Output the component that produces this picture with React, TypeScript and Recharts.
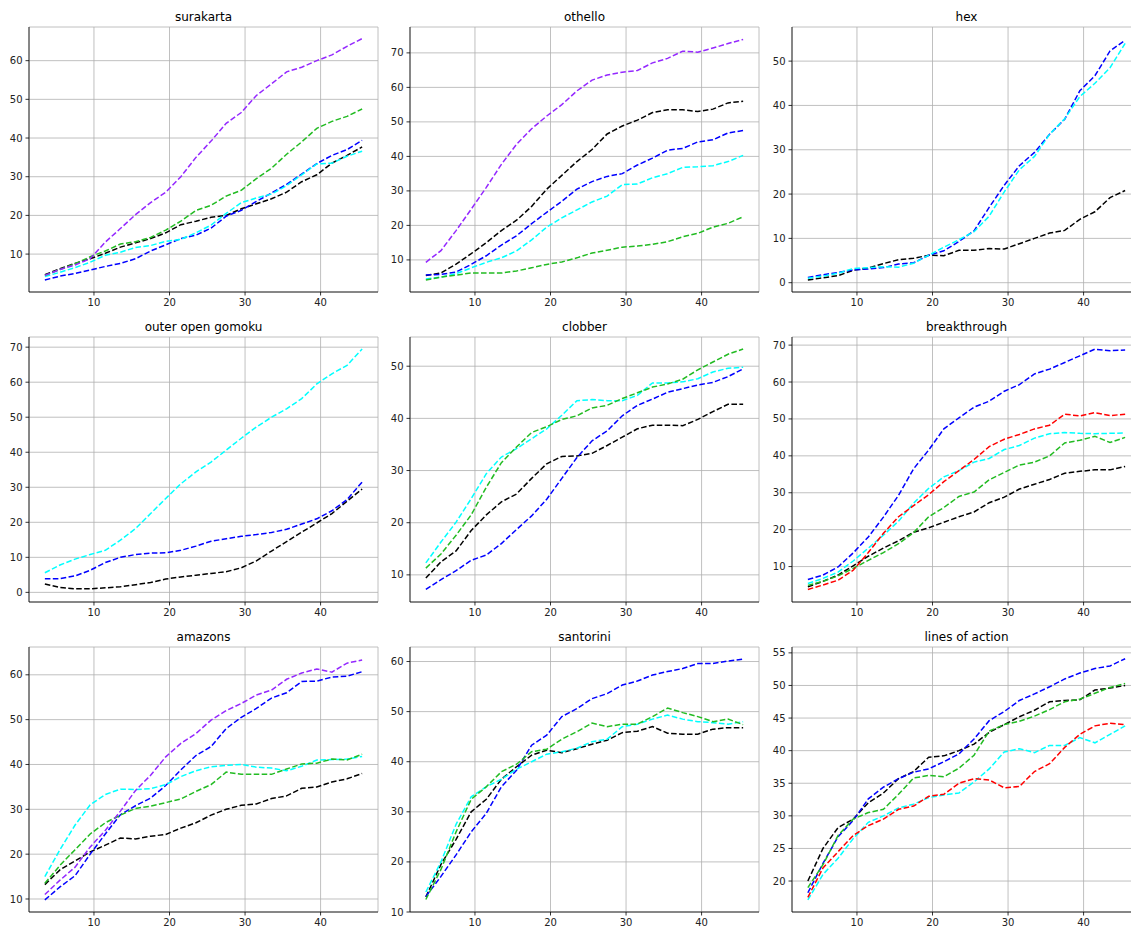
import React from 'react';
import { LineChart, Line, XAxis, YAxis, CartesianGrid } from 'recharts';

// x positions (game progress)
const X = [3.5, 5.5, 7.5, 9.5, 11.5, 13.5, 15.5, 17.5, 19.5, 21.5, 23.5, 25.5, 27.5, 29.5, 31.5, 33.5, 35.5, 37.5, 39.5, 41.5, 43.5, 45.5];
const X_TICKS = [10, 20, 30, 40];

// surakarta
const surakartaPurple = [4.5, 6.0, 7.2, 8.8, 13.1, 16.6, 20.2, 23.3, 26.0, 30.0, 35.0, 39.2, 43.8, 46.6, 51.0, 54.0, 57.1, 58.3, 60.0, 61.5, 63.7, 65.7];
const surakartaGreen = [4.5, 6.0, 7.5, 9.3, 10.8, 12.6, 13.2, 14.3, 16.2, 18.5, 21.3, 22.6, 25.0, 26.5, 29.5, 32.2, 35.8, 39.0, 42.5, 44.3, 45.6, 47.5];
const surakartaBlack = [4.7, 6.2, 7.6, 8.8, 10.2, 11.8, 12.9, 14.0, 15.5, 17.6, 18.5, 19.5, 20.0, 21.7, 23.0, 24.3, 26.0, 28.7, 30.5, 33.5, 35.5, 37.7];
const surakartaCyan = [4.2, 5.3, 6.5, 7.9, 9.7, 10.5, 11.7, 12.2, 13.3, 13.8, 15.5, 17.5, 20.5, 23.3, 24.5, 25.5, 27.7, 30.5, 33.3, 33.5, 35.3, 36.6];
const surakartaBlue = [3.3, 4.3, 5.0, 5.9, 6.8, 7.6, 8.8, 10.8, 12.4, 14.0, 14.9, 16.7, 19.8, 21.3, 23.6, 25.8, 28.0, 30.7, 33.4, 35.5, 37.0, 39.4];

// othello
const othelloPurple = [9.3, 12.7, 18.5, 24.7, 31.0, 37.7, 43.5, 48.0, 51.7, 55.0, 59.0, 62.1, 63.6, 64.4, 64.9, 67.1, 68.4, 70.5, 70.2, 71.4, 72.7, 73.9];
const othelloBlack = [5.5, 6.2, 8.8, 11.8, 15.0, 18.5, 21.5, 25.5, 30.5, 34.5, 38.5, 42.0, 46.5, 48.8, 50.5, 52.7, 53.5, 53.5, 53.0, 53.7, 55.5, 56.0];
const othelloBlue = [5.6, 5.8, 6.5, 8.7, 11.2, 14.3, 17.0, 20.5, 23.8, 27.0, 30.5, 32.7, 34.2, 35.0, 37.5, 39.5, 41.8, 42.3, 44.2, 44.8, 46.8, 47.5];
const othelloCyan = [4.5, 5.0, 6.0, 7.7, 9.3, 10.6, 12.6, 15.8, 19.5, 22.2, 24.5, 26.8, 28.5, 31.8, 32.0, 33.8, 35.0, 36.8, 37.0, 37.3, 38.5, 40.3];
const othelloGreen = [4.2, 5.0, 5.6, 6.2, 6.2, 6.2, 6.8, 7.7, 8.7, 9.4, 10.6, 12.0, 12.8, 13.7, 14.0, 14.5, 15.3, 16.7, 17.7, 19.5, 20.6, 22.5];

// hex
const hexBlue = [1.2, 1.8, 2.3, 2.9, 3.1, 3.4, 4.2, 4.5, 6.2, 7.2, 9.3, 11.7, 17.0, 22.0, 26.4, 29.4, 33.5, 36.9, 43.3, 46.7, 52.3, 54.7];
const hexCyan = [1.0, 1.5, 2.1, 3.2, 3.4, 3.6, 3.5, 4.4, 6.2, 8.0, 9.7, 11.5, 15.0, 20.5, 25.5, 28.5, 33.5, 37.0, 42.0, 45.0, 48.5, 54.0];
const hexBlack = [0.6, 1.1, 1.6, 2.8, 3.3, 4.3, 5.2, 5.5, 6.2, 6.1, 7.3, 7.3, 7.7, 7.6, 8.8, 10.0, 11.2, 11.8, 14.3, 16.0, 19.2, 20.8];

// outer open gomoku
const gomokuCyan = [5.6, 7.8, 9.5, 10.8, 12.0, 14.9, 18.2, 22.5, 26.8, 31.0, 34.4, 37.2, 40.6, 44.0, 47.2, 50.0, 52.4, 55.3, 59.5, 62.4, 64.8, 69.5];
const gomokuBlue = [3.9, 3.9, 4.7, 6.3, 8.5, 10.0, 10.8, 11.2, 11.3, 12.0, 13.2, 14.6, 15.3, 16.0, 16.5, 17.1, 18.0, 19.5, 21.0, 23.3, 26.5, 31.5];
const gomokuBlack = [2.4, 1.4, 1.0, 1.0, 1.3, 1.6, 2.2, 2.8, 3.8, 4.4, 4.9, 5.4, 5.9, 7.0, 9.0, 11.8, 14.5, 17.2, 19.8, 22.5, 26.0, 29.5];

// clobber
const clobberCyan = [12.3, 16.3, 20.1, 24.6, 29.4, 32.6, 34.2, 36.1, 38.0, 40.6, 43.4, 43.6, 43.4, 43.4, 44.4, 46.8, 46.8, 47.0, 47.6, 48.9, 49.6, 49.8];
const clobberGreen = [11.3, 14.0, 17.6, 21.5, 26.8, 31.5, 34.5, 37.3, 38.4, 39.8, 40.5, 42.0, 42.5, 43.8, 44.9, 46.0, 46.6, 47.5, 49.3, 50.8, 52.3, 53.3];
const clobberBlack = [9.4, 12.5, 14.6, 18.5, 21.5, 24.0, 25.5, 28.5, 31.3, 32.7, 32.8, 33.3, 34.8, 36.4, 38.0, 38.7, 38.7, 38.6, 39.8, 41.3, 42.7, 42.7];
const clobberBlue = [7.2, 9.1, 10.8, 12.8, 13.8, 16.0, 18.7, 21.3, 24.5, 28.5, 32.5, 35.7, 37.6, 40.5, 42.5, 43.7, 45.0, 45.7, 46.4, 46.9, 48.0, 49.5];

// breakthrough
const btBlue = [6.5, 7.7, 9.9, 13.7, 18.0, 23.4, 29.3, 36.5, 41.6, 47.3, 50.3, 53.2, 54.8, 57.5, 59.3, 62.2, 63.5, 65.3, 67.1, 68.9, 68.5, 68.7];
const btRed = [3.8, 5.0, 6.3, 9.0, 13.8, 19.0, 23.5, 26.5, 29.5, 33.0, 36.0, 39.0, 42.5, 44.5, 45.8, 47.3, 48.3, 51.3, 50.8, 51.7, 50.9, 51.3];
const btCyan = [5.4, 6.8, 8.5, 11.5, 15.0, 18.5, 22.3, 27.2, 31.2, 34.3, 36.0, 38.3, 39.3, 41.7, 42.8, 44.8, 46.0, 46.3, 46.1, 46.0, 46.1, 46.2];
const btGreen = [4.9, 6.0, 7.5, 9.5, 11.7, 13.8, 16.2, 19.2, 23.5, 26.0, 29.0, 30.2, 33.5, 35.5, 37.5, 38.3, 40.0, 43.5, 44.2, 45.3, 43.6, 45.0];
const btBlack = [4.5, 6.0, 7.7, 10.2, 12.8, 15.0, 17.0, 19.3, 20.5, 22.0, 23.5, 24.8, 27.3, 28.8, 31.0, 32.3, 33.6, 35.3, 35.8, 36.2, 36.2, 37.1];

// amazons
const amazonsPurple = [11.0, 14.2, 17.1, 21.6, 25.3, 29.6, 34.2, 37.6, 41.7, 44.7, 46.9, 49.9, 52.0, 53.6, 55.5, 56.6, 59.0, 60.4, 61.3, 60.6, 62.6, 63.3];
const amazonsBlue = [9.8, 12.7, 15.2, 20.0, 24.5, 28.8, 30.8, 32.5, 35.3, 38.8, 42.0, 44.0, 48.0, 50.5, 52.5, 54.8, 56.0, 58.5, 58.6, 59.5, 59.7, 60.7];
const amazonsCyan = [15.0, 21.0, 26.5, 31.0, 33.3, 34.5, 34.4, 34.6, 35.5, 37.3, 38.6, 39.5, 39.8, 40.0, 39.4, 39.2, 38.6, 39.6, 41.0, 41.1, 41.2, 41.8];
const amazonsGreen = [13.5, 17.5, 21.0, 24.5, 27.0, 28.7, 30.2, 30.7, 31.5, 32.3, 34.0, 35.5, 38.3, 37.8, 37.8, 37.8, 39.0, 40.1, 40.3, 41.2, 41.0, 42.3];
const amazonsBlack = [13.2, 16.5, 18.5, 20.5, 22.0, 23.6, 23.4, 24.0, 24.4, 25.8, 27.0, 28.7, 30.0, 30.9, 31.2, 32.4, 33.0, 34.7, 35.0, 36.1, 36.8, 38.0];

// santorini
const santoriniBlue = [13.1, 17.1, 21.4, 26.0, 29.7, 35.0, 38.3, 43.3, 45.3, 49.0, 50.6, 52.6, 53.6, 55.3, 56.1, 57.3, 58.0, 58.6, 59.6, 59.6, 60.1, 60.5];
const santoriniGreen = [12.5, 18.5, 26.0, 32.5, 35.0, 38.0, 39.5, 42.0, 42.5, 44.5, 46.0, 47.7, 47.0, 47.5, 47.5, 49.0, 50.7, 49.8, 49.0, 48.0, 48.5, 47.4];
const santoriniCyan = [14.0, 20.0, 27.5, 33.0, 35.0, 36.5, 38.5, 40.0, 41.5, 42.0, 42.7, 44.0, 44.5, 47.0, 47.5, 48.5, 49.3, 48.5, 48.0, 47.8, 47.5, 48.0];
const santoriniBlack = [13.0, 19.5, 24.5, 30.0, 32.5, 36.5, 39.0, 41.3, 42.3, 41.8, 42.6, 43.5, 44.3, 45.8, 46.1, 47.0, 45.7, 45.5, 45.5, 46.5, 46.8, 46.8];

// lines of action
const loaBlue = [18.2, 22.7, 26.8, 29.3, 32.6, 34.4, 35.7, 36.7, 37.2, 38.3, 39.5, 41.8, 44.6, 46.0, 47.7, 48.7, 49.8, 51.0, 51.9, 52.6, 53.0, 54.1];
const loaBlack = [20.0, 25.0, 28.2, 29.5, 32.0, 33.5, 35.7, 36.8, 39.0, 39.2, 40.0, 41.0, 42.8, 44.0, 45.2, 46.2, 47.5, 47.7, 47.8, 49.3, 49.6, 50.0];
const loaGreen = [19.0, 22.5, 27.0, 29.5, 30.5, 31.0, 33.3, 35.8, 36.2, 36.0, 37.3, 39.3, 43.0, 44.0, 44.5, 45.3, 46.3, 47.5, 47.9, 48.8, 49.7, 50.3];
const loaRed = [17.5, 22.0, 24.5, 27.0, 28.5, 29.5, 31.0, 31.5, 33.0, 33.3, 35.0, 35.7, 35.5, 34.3, 34.5, 36.8, 38.0, 40.5, 42.5, 43.8, 44.2, 44.0];
const loaCyan = [17.1, 21.0, 23.5, 26.5, 29.0, 30.0, 31.2, 31.8, 32.8, 33.2, 33.5, 35.2, 37.2, 39.8, 40.3, 39.7, 40.8, 40.8, 42.0, 41.2, 42.5, 43.8];

const PURPLE = '#9428ff';
const BLUE = '#0000ff';
const CYAN = '#00ffff';
const GREEN = '#22bb22';
const RED = '#ff0000';
const BLACK = '#000000';

const COLS = [29, 410, 792];
const ROWS = [27, 337, 647];
const PW = 349;
const PH = 265;
const ML = 40;
const MT = 25;
const MB = 25;
const MR = 2;

type Series = { name: string; color: string; values: number[] };
type Cfg = { title: string; col: number; row: number; yDomain: [number, number]; yTicks: number[]; series: Series[] };

const panels: Cfg[] = [
  {
    title: 'surakarta', col: 0, row: 0, yDomain: [0.2, 68.7], yTicks: [10, 20, 30, 40, 50, 60],
    series: [
      { name: 'black', color: BLACK, values: surakartaBlack },
      { name: 'blue', color: BLUE, values: surakartaBlue },
      { name: 'cyan', color: CYAN, values: surakartaCyan },
      { name: 'green', color: GREEN, values: surakartaGreen },
      { name: 'purple', color: PURPLE, values: surakartaPurple },
    ],
  },
  {
    title: 'othello', col: 1, row: 0, yDomain: [0.7, 77.5], yTicks: [10, 20, 30, 40, 50, 60, 70],
    series: [
      { name: 'black', color: BLACK, values: othelloBlack },
      { name: 'blue', color: BLUE, values: othelloBlue },
      { name: 'cyan', color: CYAN, values: othelloCyan },
      { name: 'green', color: GREEN, values: othelloGreen },
      { name: 'purple', color: PURPLE, values: othelloPurple },
    ],
  },
  {
    title: 'hex', col: 2, row: 0, yDomain: [-2.1, 57.7], yTicks: [0, 10, 20, 30, 40, 50],
    series: [
      { name: 'black', color: BLACK, values: hexBlack },
      { name: 'blue', color: BLUE, values: hexBlue },
      { name: 'cyan', color: CYAN, values: hexCyan },
    ],
  },
  {
    title: 'outer open gomoku', col: 0, row: 1, yDomain: [-2.75, 72.9], yTicks: [0, 10, 20, 30, 40, 50, 60, 70],
    series: [
      { name: 'black', color: BLACK, values: gomokuBlack },
      { name: 'blue', color: BLUE, values: gomokuBlue },
      { name: 'cyan', color: CYAN, values: gomokuCyan },
    ],
  },
  {
    title: 'clobber', col: 1, row: 1, yDomain: [4.8, 55.6], yTicks: [10, 20, 30, 40, 50],
    series: [
      { name: 'black', color: BLACK, values: clobberBlack },
      { name: 'blue', color: BLUE, values: clobberBlue },
      { name: 'cyan', color: CYAN, values: clobberCyan },
      { name: 'green', color: GREEN, values: clobberGreen },
    ],
  },
  {
    title: 'breakthrough', col: 2, row: 1, yDomain: [0.4, 72.2], yTicks: [10, 20, 30, 40, 50, 60, 70],
    series: [
      { name: 'black', color: BLACK, values: btBlack },
      { name: 'blue', color: BLUE, values: btBlue },
      { name: 'cyan', color: CYAN, values: btCyan },
      { name: 'green', color: GREEN, values: btGreen },
      { name: 'red', color: RED, values: btRed },
    ],
  },
  {
    title: 'amazons', col: 0, row: 2, yDomain: [7.1, 66.2], yTicks: [10, 20, 30, 40, 50, 60],
    series: [
      { name: 'black', color: BLACK, values: amazonsBlack },
      { name: 'blue', color: BLUE, values: amazonsBlue },
      { name: 'cyan', color: CYAN, values: amazonsCyan },
      { name: 'green', color: GREEN, values: amazonsGreen },
      { name: 'purple', color: PURPLE, values: amazonsPurple },
    ],
  },
  {
    title: 'santorini', col: 1, row: 2, yDomain: [10, 62.9], yTicks: [10, 20, 30, 40, 50, 60],
    series: [
      { name: 'black', color: BLACK, values: santoriniBlack },
      { name: 'blue', color: BLUE, values: santoriniBlue },
      { name: 'cyan', color: CYAN, values: santoriniCyan },
      { name: 'green', color: GREEN, values: santoriniGreen },
    ],
  },
  {
    title: 'lines of action', col: 2, row: 2, yDomain: [15.25, 55.9], yTicks: [20, 25, 30, 35, 40, 45, 50, 55],
    series: [
      { name: 'black', color: BLACK, values: loaBlack },
      { name: 'blue', color: BLUE, values: loaBlue },
      { name: 'cyan', color: CYAN, values: loaCyan },
      { name: 'green', color: GREEN, values: loaGreen },
      { name: 'red', color: RED, values: loaRed },
    ],
  },
];

const FONT = '"DejaVu Sans", sans-serif';
const tickStyle = { fontSize: 10, fill: '#222', fontFamily: FONT };
const axisLine = { stroke: '#000', strokeWidth: 0.8 };

function Panel({ cfg }: { cfg: Cfg }) {
  const left = COLS[cfg.col];
  const top = ROWS[cfg.row];
  const data = X.map((x, i) => {
    const row: Record<string, number> = { x };
    cfg.series.forEach((s, j) => {
      row['s' + j] = s.values[i];
    });
    return row;
  });
  return (
    <>
      <div
        style={{
          position: 'absolute',
          left,
          top: top - 17,
          width: PW,
          height: 14,
          lineHeight: '14px',
          fontSize: 12,
          fontFamily: FONT,
          color: '#000',
          textAlign: 'center',
          whiteSpace: 'nowrap',
        }}
      >
        {cfg.title}
      </div>
      <div style={{ position: 'absolute', left: left - ML, top: top - MT }}>
        <LineChart
          width={PW + ML + MR}
          height={PH + MT + MB}
          data={data}
          margin={{ top: MT, right: MR, bottom: 0, left: 0 }}
        >
          <CartesianGrid stroke="#b0b0b0" strokeWidth={0.8} />
          <XAxis
            dataKey="x"
            type="number"
            domain={[1.4, 47.6]}
            ticks={X_TICKS}
            interval={0}
            allowDataOverflow
            height={MB}
            tickSize={3.5}
            tickMargin={3}
            axisLine={axisLine}
            tickLine={axisLine}
            tick={tickStyle}
          />
          <XAxis
            xAxisId="top"
            orientation="top"
            type="number"
            domain={[1.4, 47.6]}
            allowDataOverflow
            height={0}
            tick={false}
            tickLine={false}
            axisLine={axisLine}
          />
          <YAxis
            type="number"
            domain={cfg.yDomain}
            ticks={cfg.yTicks}
            interval={0}
            allowDataOverflow
            width={ML}
            tickSize={3.5}
            tickMargin={3}
            axisLine={axisLine}
            tickLine={axisLine}
            tick={tickStyle}
          />
          <YAxis
            yAxisId="right"
            orientation="right"
            type="number"
            domain={cfg.yDomain}
            allowDataOverflow
            width={0}
            tick={false}
            tickLine={false}
            axisLine={axisLine}
          />
          {cfg.series.map((s, j) => (
            <Line
              key={s.name}
              type="linear"
              dataKey={'s' + j}
              stroke={s.color}
              strokeWidth={1.5}
              strokeDasharray="5.55 2.4"
              dot={false}
              activeDot={false}
              isAnimationActive={false}
            />
          ))}
        </LineChart>
      </div>
    </>
  );
}

export default function App() {
  return (
    <div
      style={{
        position: 'absolute',
        left: 0,
        top: 0,
        width: 1131,
        height: 930,
        overflow: 'hidden',
        background: '#fff',
      }}
    >
      {panels.map((p) => (
        <Panel key={p.title} cfg={p} />
      ))}
    </div>
  );
}
